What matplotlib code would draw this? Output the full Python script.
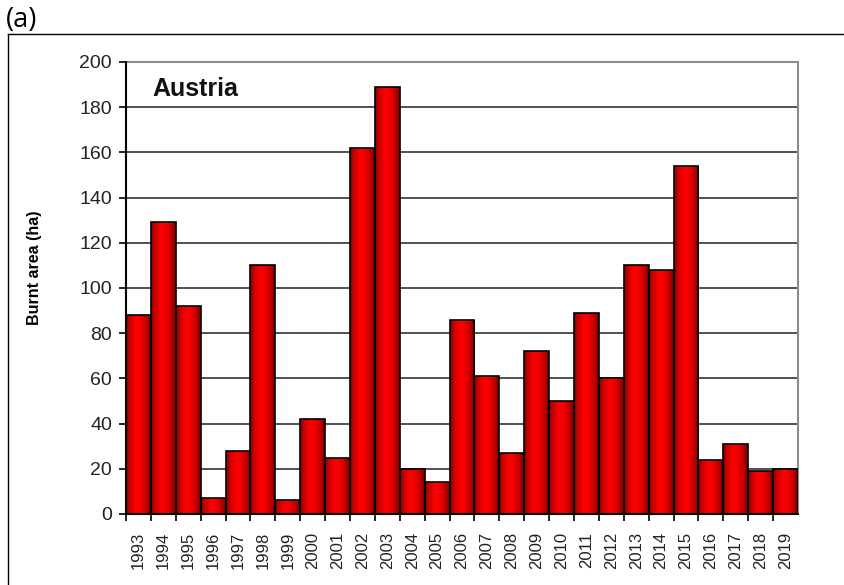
import numpy as np
import matplotlib.pyplot as plt
from matplotlib.colors import LinearSegmentedColormap
from matplotlib.lines import Line2D

years = [str(y) for y in range(1993, 2020)]
burnt = [88, 129, 92, 7, 28, 110, 6, 42, 25, 162, 189, 20, 14, 86,
         61, 27, 72, 50, 89, 60, 110, 108, 154, 24, 31, 19, 20]

plt.rcParams['font.family'] = ['Liberation Sans', 'DejaVu Sans']

fig = plt.figure(figsize=(8.44, 5.85), dpi=100)
ax = fig.add_axes([126/844, 1 - 514/585, 672/844, 452/585])

x = np.arange(len(years))
bars = ax.bar(x, burnt, width=1.0, color='#ff0000', edgecolor='black',
              linewidth=1.2, zorder=3)

# horizontal shading like the old excel bars
shade = LinearSegmentedColormap.from_list(
    'shade', [(0, '#7a0000'), (0.12, '#c00000'), (0.4, '#ff0000'),
              (0.6, '#f00000'), (0.88, '#b00000'), (1, '#600000')])
grad = np.linspace(0, 1, 64).reshape(1, -1)
for b in bars:
    x0, w, h = b.get_x(), b.get_width(), b.get_height()
    im = ax.imshow(grad, cmap=shade, aspect='auto', extent=(x0, x0 + w, 0, h),
                   zorder=3.5, interpolation='bicubic')
    im.set_clip_path(b)
    b.set_facecolor('none')
    b.set_zorder(4)

ax.set_xlim(-0.5, len(years) - 0.5)
ax.set_ylim(0, 200)
ax.set_yticks(range(0, 201, 20))
ax.set_xticks(x - 0.5, minor=True)
ax.set_xticks(x)
ax.set_xticklabels(years, rotation=90, fontsize=12, color='#222222')
ax.tick_params(axis='x', which='major', length=0, pad=13)
ax.tick_params(axis='x', which='minor', length=5, width=1.2, color='black')
ax.tick_params(axis='y', length=5, width=1.2, labelsize=14, colors='black',
               labelcolor='#222222', pad=5)
ax.grid(axis='y', color='#333333', linewidth=1.2, zorder=1)

for side in ['top', 'right']:
    ax.spines[side].set_color('#8c8c8c')
    ax.spines[side].set_linewidth(1.5)
for side in ['left', 'bottom']:
    ax.spines[side].set_color('black')
    ax.spines[side].set_linewidth(1.5)
    ax.spines[side].set_zorder(5)

ax.set_ylabel('Burnt area (ha)', fontsize=11.5, fontweight='bold')
ax.yaxis.set_label_coords(-0.125, 0.544)
ax.text(0.039, 0.94, 'Austria', transform=ax.transAxes, fontsize=18,
        fontweight='bold', va='center', ha='left', color='#111111')

# outer panel frame
fig.add_artist(Line2D([8/844, 1], [1 - 34/585, 1 - 34/585], color='black', lw=1.0))
fig.add_artist(Line2D([8/844, 8/844], [0, 1 - 34/585], color='black', lw=1.0))
fig.text(6/844, 1 - 20/585, '(a)', fontsize=19.5, family=['Open Sans', 'DejaVu Sans'],
         va='center', ha='left')

fig.savefig('out.png', dpi=100)
